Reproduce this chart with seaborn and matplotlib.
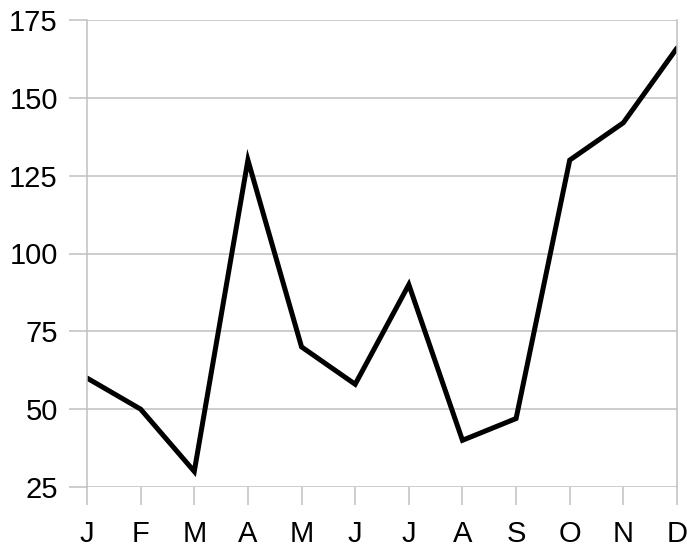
import matplotlib
matplotlib.use("Agg")
import matplotlib.pyplot as plt
import pandas as pd
import seaborn as sns

# Data
MONTHS = ["J", "F", "M", "A", "M", "J", "J", "A", "S", "O", "N", "D"]
VALUES = [60, 50, 30, 130, 70, 58, 90, 40, 47, 130, 142, 166]
Y_TICKS = [25, 50, 75, 100, 125, 150, 175]

GRID = "#c0c0c0"

sns.set_style("white")
plt.rcParams["font.family"] = ["Liberation Sans", "DejaVu Sans"]

df = pd.DataFrame({"pos": range(len(MONTHS)), "value": VALUES})

fig = plt.figure(figsize=(6.87, 5.53), dpi=100)
ax = fig.add_axes([87 / 687, 1 - 487 / 553, (677 - 87) / 687, (487 - 20) / 553])

sns.lineplot(data=df, x="pos", y="value", ax=ax, color="black",
             linewidth=3.6, solid_joinstyle="miter")

ax.set_xlim(0, len(MONTHS) - 1)
ax.set_ylim(Y_TICKS[0], Y_TICKS[-1])
ax.set_xticks(range(len(MONTHS)))
ax.set_xticklabels(MONTHS)
ax.set_yticks(Y_TICKS)
ax.set_xlabel("")
ax.set_ylabel("")

ax.yaxis.grid(True, color=GRID, linewidth=1.1)
ax.xaxis.grid(False)
ax.set_axisbelow(True)

for side in ["left", "right"]:
    ax.spines[side].set_visible(True)
    ax.spines[side].set_color(GRID)
    ax.spines[side].set_linewidth(1.1)
for side in ["top", "bottom"]:
    ax.spines[side].set_visible(False)

ax.tick_params(axis="both", which="major", length=13, width=1.1, color=GRID,
               labelsize=21, labelcolor="black")
ax.tick_params(axis="y", pad=8, left=True)
ax.tick_params(axis="x", pad=11, bottom=True)

fig.savefig("out.png", dpi=100)
